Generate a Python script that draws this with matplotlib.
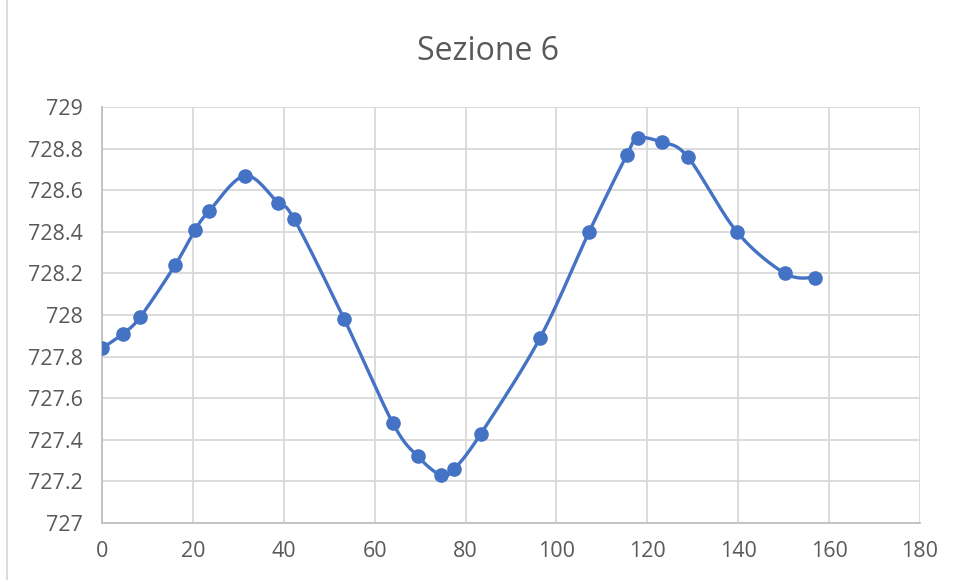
import numpy as np
import matplotlib
matplotlib.use("Agg")
import matplotlib.pyplot as plt
from matplotlib.patches import Rectangle

# distanza e quota
dist = [0, 4.6, 8.4, 16.1, 20.5, 23.6, 31.5, 38.7, 42.3, 53.3, 64.0, 69.5,
        74.6, 77.5, 83.4, 96.4, 107.2, 115.5, 117.9, 123.2, 128.9, 139.7,
        150.3, 156.9]
quota = [727.84, 727.91, 727.99, 728.24, 728.41, 728.50, 728.67, 728.54,
         728.46, 727.98, 727.48, 727.32, 727.23, 727.26, 727.43, 727.89,
         728.40, 728.77, 728.85, 728.83, 728.76, 728.40, 728.20, 728.18]
xticks = [0, 20, 40, 60, 80, 100, 120, 140, 160, 180]
yticks = [727, 727.2, 727.4, 727.6, 727.8, 728, 728.2, 728.4, 728.6, 728.8, 729]
title = "Sezione 6"

blue = "#4472C4"
grey_txt = "#595959"
grid_col = "#D9D9D9"


def smooth(x, y, n=30):
    # bezier con tangenti tipo catmull-rom (come la linea smussata di excel)
    p = np.column_stack([x, y]).astype(float)
    p = np.vstack([p[0], p, p[-1]])
    out = []
    t = np.linspace(0, 1, n)[:, None]
    for i in range(1, len(p) - 2):
        p0, p1, p2, p3 = p[i - 1], p[i], p[i + 1], p[i + 2]
        c1 = p1 + (p2 - p0) / 6
        c2 = p2 - (p3 - p1) / 6
        seg = ((1 - t) ** 3) * p1 + 3 * ((1 - t) ** 2) * t * c1 + 3 * (1 - t) * t ** 2 * c2 + t ** 3 * p2
        out.append(seg)
    out = np.vstack(out)
    return out[:, 0], out[:, 1]


plt.rcParams["font.family"] = ["Open Sans", "DejaVu Sans"]

fig = plt.figure(figsize=(9.6, 5.8), dpi=100)
ax = fig.add_axes([102 / 960, 1 - 523 / 580, 818 / 960, 416 / 580])

sx, sy = smooth(dist, quota)
ax.plot(sx, sy, color=blue, lw=2.4, solid_capstyle="round", zorder=3)
ax.plot(dist, quota, "o", color=blue, ms=9.5, zorder=4)

ax.set_xlim(0, 180)
ax.set_ylim(727, 729)
ax.set_xticks(xticks)
ax.set_yticks(yticks)
ax.set_xticklabels([str(v) for v in xticks])
ax.set_yticklabels(["%g" % v for v in yticks])
ax.grid(True, color=grid_col, lw=1.3)
ax.set_axisbelow(True)
ax.tick_params(length=0, labelsize=15.5, labelcolor=grey_txt)
ax.tick_params(axis="x", pad=13)
ax.tick_params(axis="y", pad=14)
for s in ["top", "right"]:
    ax.spines[s].set_visible(False)
ax.spines["left"].set_color("#BFBFBF")
ax.spines["bottom"].set_color("#BFBFBF")
ax.spines["left"].set_linewidth(1.3)
ax.spines["bottom"].set_linewidth(1.3)

fig.text(488 / 960, 1 - 51 / 580, title, ha="center", va="center",
         fontsize=23, color=grey_txt)

# bordo del riquadro grafico
fig.patches.append(Rectangle((7 / 960, -0.01), 1.0, 1.02, transform=fig.transFigure,
                             fill=False, edgecolor="#D9D9D9", lw=1.3))

fig.savefig("out.png", dpi=100)
